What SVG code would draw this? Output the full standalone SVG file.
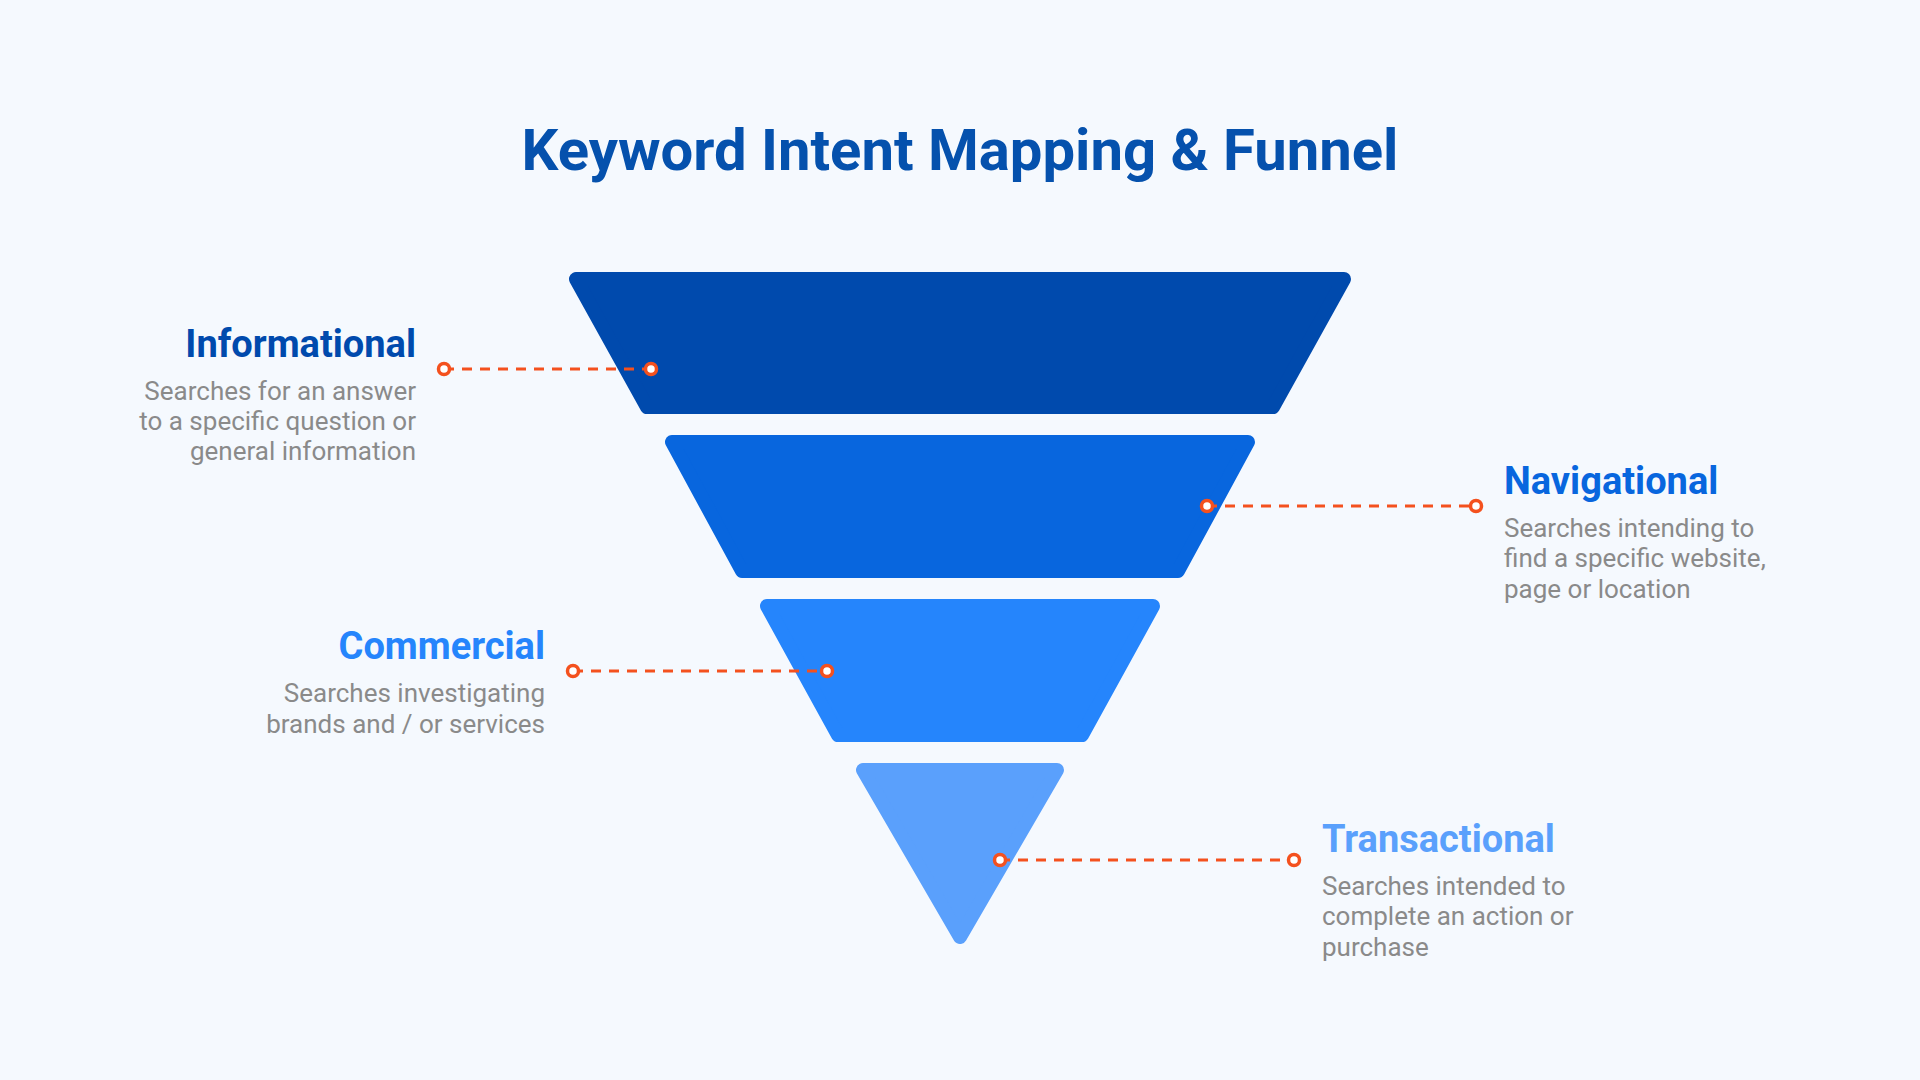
<svg xmlns="http://www.w3.org/2000/svg" width="1920" height="1080" viewBox="0 0 1920 1080">
<style>
.t{font-family:Roboto,"Liberation Sans",sans-serif}
.h{font-weight:bold;font-size:38px}
.d{font-size:26px;fill:#8a8a8a}
.c{stroke:#f4511e;stroke-width:3;stroke-dasharray:10 8;fill:none}
.dot{fill:#fff;stroke:#f4511e;stroke-width:3.5}
.band{stroke-linejoin:round;stroke-width:14}
</style>
<rect width="1920" height="1080" fill="#f5f9fe"/>
<text class="t" x="960" y="170" text-anchor="middle" font-size="58" font-weight="bold" fill="#0551ad">Keyword Intent Mapping &amp; Funnel</text>
<g id="band1"><polygon class="band" points="576,279 1344,279 1273,407 647,407" fill="#004aad" stroke="#004aad"/></g>
<g id="band2"><polygon class="band" points="672,442 1248,442 1178,571 742,571" fill="#0866de" stroke="#0866de"/></g>
<g id="band3"><polygon class="band" points="767,606 1153,606 1082,735 838,735" fill="#2585fc" stroke="#2585fc"/></g>
<g id="band4"><polygon class="band" points="863,770 1057,770 960,937" fill="#5aa0fc" stroke="#5aa0fc"/></g>
<g id="connectors">
<line class="c" x1="444" y1="369" x2="651" y2="369"/>
<line class="c" x1="1207" y1="506" x2="1476" y2="506"/>
<line class="c" x1="573" y1="671" x2="827" y2="671"/>
<line class="c" x1="1000" y1="860" x2="1294" y2="860"/>
<circle class="dot" cx="444" cy="369" r="5.5"/><circle class="dot" cx="651" cy="369" r="5.5"/>
<circle class="dot" cx="1207" cy="506" r="5.5"/><circle class="dot" cx="1476" cy="506" r="5.5"/>
<circle class="dot" cx="573" cy="671" r="5.5"/><circle class="dot" cx="827" cy="671" r="5.5"/>
<circle class="dot" cx="1000" cy="860" r="5.5"/><circle class="dot" cx="1294" cy="860" r="5.5"/>
</g>
<g id="informational" class="t" text-anchor="end">
<text class="h" x="416" y="357" fill="#004aad">Informational</text>
<text class="d" x="416" y="400">Searches for an answer</text>
<text class="d" x="416" y="430">to a specific question or</text>
<text class="d" x="416" y="460">general information</text>
</g>
<g id="navigational" class="t">
<text class="h" x="1504" y="494" fill="#0866de">Navigational</text>
<text class="d" x="1504" y="537">Searches intending to</text>
<text class="d" x="1504" y="567">find a specific website,</text>
<text class="d" x="1504" y="598">page or location</text>
</g>
<g id="commercial" class="t" text-anchor="end">
<text class="h" x="545" y="659" fill="#2585fc">Commercial</text>
<text class="d" x="545" y="702">Searches investigating</text>
<text class="d" x="545" y="733">brands and / or services</text>
</g>
<g id="transactional" class="t">
<text class="h" x="1322" y="852" fill="#5aa0fc">Transactional</text>
<text class="d" x="1322" y="895">Searches intended to</text>
<text class="d" x="1322" y="925">complete an action or</text>
<text class="d" x="1322" y="956">purchase</text>
</g>
</svg>
